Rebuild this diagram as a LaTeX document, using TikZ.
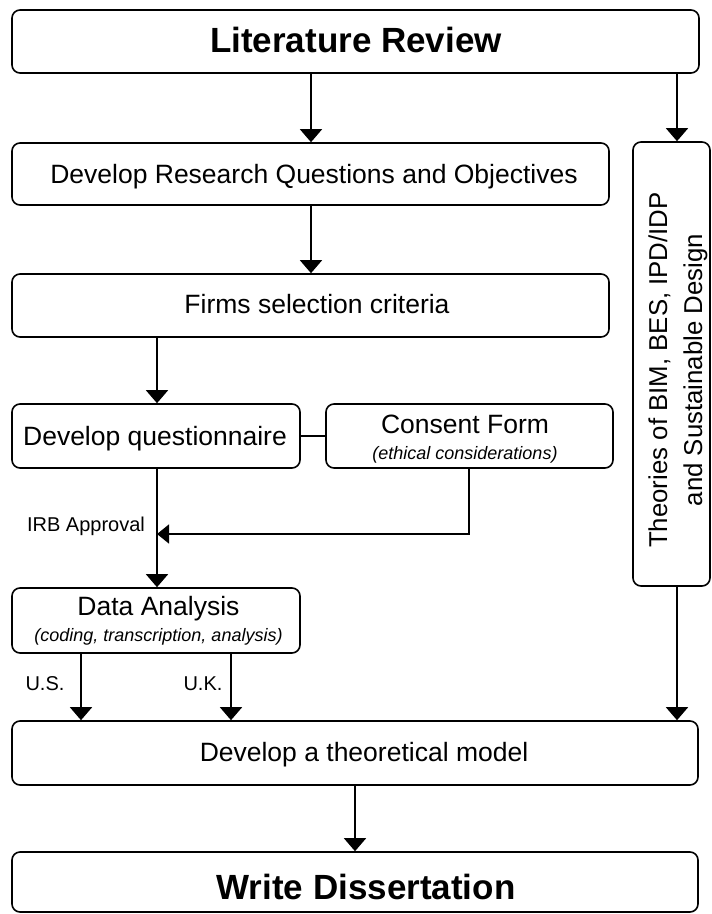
\documentclass[tikz,border=0pt]{standalone}
\usepackage{fontspec}
\setmainfont{Liberation Sans}
\usetikzlibrary{arrows.meta}

\begin{document}
\begin{tikzpicture}[x=1pt,y=-1pt,line width=1.6pt,
  >={Triangle[width=22pt,length=13pt]},
  box/.style={draw,rounded corners=8pt,inner sep=0pt},
  txt/.style={anchor=base,inner sep=0pt},
  big/.style={txt,font=\fontsize{35}{40}\selectfont\bfseries},
  mid/.style={txt,font=\fontsize{26.5}{30}\selectfont},
  sub/.style={txt,font=\fontsize{18}{20}\selectfont\itshape},
  note/.style={txt,font=\fontsize{20}{22}\selectfont},
  side/.style={txt,rotate=90,font=\fontsize{25.8}{30}\selectfont},
]
\useasboundingbox (0,0) rectangle (712,914);

% frames
\node[box,minimum width=687pt,minimum height=63pt] (lit)   at (355.5,41.5) {};
\node[box,minimum width=597pt,minimum height=62pt] (drq)   at (310.5,174)  {};
\node[box,minimum width=77pt, minimum height=444pt] (theo) at (671.5,364)  {};
\node[box,minimum width=597pt,minimum height=63pt] (firms) at (310.5,305.5) {};
\node[box,minimum width=288pt,minimum height=64pt] (dq)    at (156,436)    {};
\node[box,minimum width=287pt,minimum height=64pt] (cf)    at (469.5,436)  {};
\node[box,minimum width=288pt,minimum height=65pt] (da)    at (156,620.5)  {};
\node[box,minimum width=686pt,minimum height=64pt] (model) at (355,753)    {};
\node[box,minimum width=686pt,minimum height=60pt] (write) at (355,882)    {};

% texts
\node[big] (littxt)   at (356,52.5)  {Literature Review};
\node[mid] (drqtxt)   at (314,183.3) {Develop Research Questions and Objectives};
\node[side] (theotxta) at (667,370)  {Theories of BIM, BES, IPD/IDP};
\node[side] (theotxtb) at (702,370)  {and Sustainable Design};
\node[mid] (firmstxt) at (317,313.3) {Firms selection criteria};
\node[mid] (dqtxt)    at (155,445)   {Develop questionnaire};
\node[mid] (cftxt)    at (465,433)   {Consent Form};
\node[sub] (cfsub)    at (465,459.3) {(ethical considerations)};
\node[mid] (datxt)    at (158.5,615) {Data Analysis};
\node[sub] (dasub)    at (158.5,641.5) {(coding, transcription, analysis)};
\node[mid] (modeltxt) at (364,761.7) {Develop a theoretical model};
\node[big] (writetxt) at (366,899)   {Write Dissertation};

% connector positions
\coordinate (xmain)  at (311,0);
\coordinate (xright) at (677,0);
\coordinate (xleft)  at (157,0);
\coordinate (xcf)    at (469,0);
\coordinate (xus)    at (81,0);
\coordinate (xuk)    at (231,0);
\coordinate (xdown)  at (355,0);
\coordinate (irb)    at (157,534);

% connectors
\draw[->] (lit.south -| xmain) -- (drq.north -| xmain);
\draw[->] (lit.south -| xright) -- (theo.north -| xright);
\draw[->] (drq.south -| xmain) -- (firms.north -| xmain);
\draw[->] (firms.south -| xleft) -- (dq.north -| xleft);
\draw (dq.east) -- (cf.west);
\draw[->] (dq.south -| xleft) -- (da.north -| xleft);
\draw[-{Triangle[width=19pt,length=12pt]}] (cf.south -| xcf) |- (irb);
\draw[->] (da.south -| xus) -- (model.north -| xus);
\draw[->] (da.south -| xuk) -- (model.north -| xuk);
\draw[->] (theo.south -| xright) -- (model.north -| xright);
\draw[->] (model.south -| xdown) -- (write.north -| xdown);

% labels
\node[note] (lirb) at (86,531.7) {IRB Approval};
\node[note] (lus)  at (45,690)   {U.S.};
\node[note] (luk)  at (203,690)  {U.K.};
\end{tikzpicture}
\end{document}
